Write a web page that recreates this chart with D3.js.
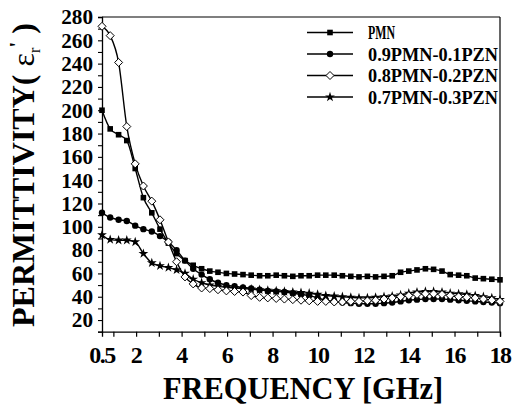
<!DOCTYPE html>
<html><head><meta charset="utf-8">
<script src="https://cdn.jsdelivr.net/npm/d3@7"></script>
<style>body{margin:0;background:#fff}svg{display:block}</style>
</head><body>
<script>
const freq = [0.5,0.86,1.23,1.59,1.96,2.32,2.69,3.05,3.42,3.78,4.15,4.51,4.88,5.24,5.60,5.97,6.33,6.70,7.06,7.43,7.79,8.16,8.52,8.89,9.25,9.61,9.98,10.34,10.71,11.07,11.44,11.80,12.17,12.53,12.90,13.26,13.63,13.99,14.35,14.72,15.08,15.45,15.81,16.18,16.54,16.91,17.27,17.64,18.0];
const pmn = [200,184,179,174,150,125,112,98,86,77,71,67,64,62,61,60,59.5,59,58.5,58,58,58.5,58,57.5,58,58,58.5,58.5,58.5,58,57.5,57,57.5,57,57.5,58,61,62,63,64,63.5,62,59,58.5,58,56,55.5,55,54.5];
const p91 = [112,108,106,105,101,98,96,92,87,80,71,64,59,55,52,50,49,48,47,46,45,44.5,44,43,42,41,39,37,36,35,34.5,34,34,34,34.5,35,36,37,37.5,38,38,38,37.5,37,36.5,36,35.5,35,34.5];
const p82 = [272,264,241,186,154,135,122,106,87,70,57,51,47.5,47,46,45,44.5,44,41,39.5,39,38.5,38,37.5,37,36.5,36,36,35.5,35.5,36,36,36.5,37,38,39,40,41,42,42.5,42.5,42,41,40,39.5,39,38,37,36];
const p73 = [93,89,88.5,88.5,87,77,69,66.5,65,63,60,55,52,50,49,48,47.5,47,46.5,46,45.5,45,44.5,44,43.5,43,42,41,40.5,40,39.5,39,39,39.5,40,40.5,41.5,43,44,44.5,44.5,44,43,42.5,42,41,40,39,37.5];
const seriesNames = ["PMN","0.9PMN-0.1PZN","0.8PMN-0.2PZN","0.7PMN-0.3PZN"];
const seriesValues = [pmn,p91,p82,p73];
const seriesSymbols = ["square","circle","diamond","star"];
const xTickLabels = [0.5,2,4,6,8,10,12,14,16,18];
const yTickLabels = [20,40,60,80,100,120,140,160,180,200,220,240,260,280];

const W=516,H=407;
const L=102,R=500,T=17,B=331.7;
const svg=d3.select("body").append("svg").attr("width",W).attr("height",H);
const x=d3.scaleLinear().domain([0.5,18]).range([L,R]);
const y=d3.scaleLinear().domain([10,280]).range([B,T]);
const font="'Liberation Serif','Times New Roman',serif";

// frame
svg.append("line").attr("x1",L).attr("x2",R).attr("y1",T).attr("y2",T).attr("stroke","#000").attr("stroke-width",1.2);
svg.append("line").attr("x1",R).attr("x2",R).attr("y1",T).attr("y2",B).attr("stroke","#000").attr("stroke-width",1.2);

// x axis
const xa=svg.append("g").attr("transform",`translate(0,${B})`)
  .call(d3.axisBottom(x).tickValues(d3.range(1,19)).tickSize(5).tickFormat(""));
xa.select(".domain").attr("stroke-width",1.3);
xa.selectAll(".tick line").attr("stroke-width",1.2);
svg.append("g").selectAll("text").data(xTickLabels).join("text")
  .attr("x",d=>x(d)).attr("y",363).attr("text-anchor","middle")
  .attr("font-family",font).attr("font-weight","bold").attr("font-size",24)
  .attr("letter-spacing",-1.5).text(d=>d);

// y axis
const ya=svg.append("g").attr("transform",`translate(${L},0)`)
  .call(d3.axisLeft(y).tickValues(d3.range(10,281,10)).tickSize(4).tickFormat(""));
ya.select(".domain").attr("stroke-width",1.3);
ya.selectAll(".tick line").attr("stroke-width",1.1);
svg.append("g").selectAll("text").data(yTickLabels).join("text")
  .attr("x",93).attr("y",d=>y(d)).attr("dy","0.35em").attr("text-anchor","end")
  .attr("font-family",font).attr("font-weight","bold").attr("font-size",21)
  .attr("textLength",d=>String(d).length*10.6).attr("lengthAdjust","spacingAndGlyphs").text(d=>d);

// titles
svg.append("text").attr("x",303).attr("y",399).attr("text-anchor","middle")
  .attr("font-family",font).attr("font-weight","bold").attr("font-size",32)
  .attr("textLength",280).attr("lengthAdjust","spacingAndGlyphs").text("FREQUENCY [GHz]");
const yt=svg.append("text").attr("transform","translate(34,175) rotate(-90)").attr("text-anchor","middle")
  .attr("font-family",font).attr("font-weight","bold").attr("font-size",32);
yt.append("tspan").text("PERMITTIVITY( ");
yt.append("tspan").attr("font-weight","normal").text("ε");
yt.append("tspan").attr("font-size",16).attr("font-weight","normal").attr("dy",6).text("r");
yt.append("tspan").attr("font-size",22).attr("dy",-16).text("'");
yt.append("tspan").attr("dy",10).text(" )");

// symbols
function drawSym(g,type,cx,cy){
  if(type==="square") g.append("rect").attr("x",cx-2.8).attr("y",cy-2.8).attr("width",5.6).attr("height",5.6).attr("fill","#000");
  else if(type==="circle") g.append("circle").attr("cx",cx).attr("cy",cy).attr("r",3.2).attr("fill","#000");
  else if(type==="diamond") g.append("path").attr("d",`M${cx},${cy-4}L${cx+4},${cy}L${cx},${cy+4}L${cx-4},${cy}Z`).attr("fill","#fff").attr("stroke","#000").attr("stroke-width",1);
  else g.append("path").attr("d",d3.symbol(d3.symbolStar,30)()).attr("transform",`translate(${cx},${cy})`).attr("fill","#000");
}
const line=d3.line().x(d=>x(d[0])).y(d=>y(d[1])).curve(d3.curveMonotoneX);
const order=[0,1,3,2];
order.forEach(i=>{
  const pts=freq.map((f,k)=>[f,seriesValues[i][k]]);
  const g=svg.append("g");
  g.append("path").attr("d",line(pts)).attr("fill","none").attr("stroke","#000").attr("stroke-width",1.4);
  pts.forEach(p=>drawSym(g,seriesSymbols[i],x(p[0]),y(p[1])));
});

// legend
const lg=svg.append("g");
seriesNames.forEach((n,i)=>{
  const cy=32.5+i*21.5;
  lg.append("line").attr("x1",307).attr("x2",353).attr("y1",cy).attr("y2",cy).attr("stroke","#000").attr("stroke-width",1.4);
  drawSym(lg,seriesSymbols[i],330,cy);
  lg.append("text").attr("x",368).attr("y",cy+6.5).attr("font-family",font).attr("font-weight","bold")
    .attr("font-size",18).attr("textLength",i===0?27:130).attr("lengthAdjust","spacingAndGlyphs").text(n);
});
</script>
</body></html>
